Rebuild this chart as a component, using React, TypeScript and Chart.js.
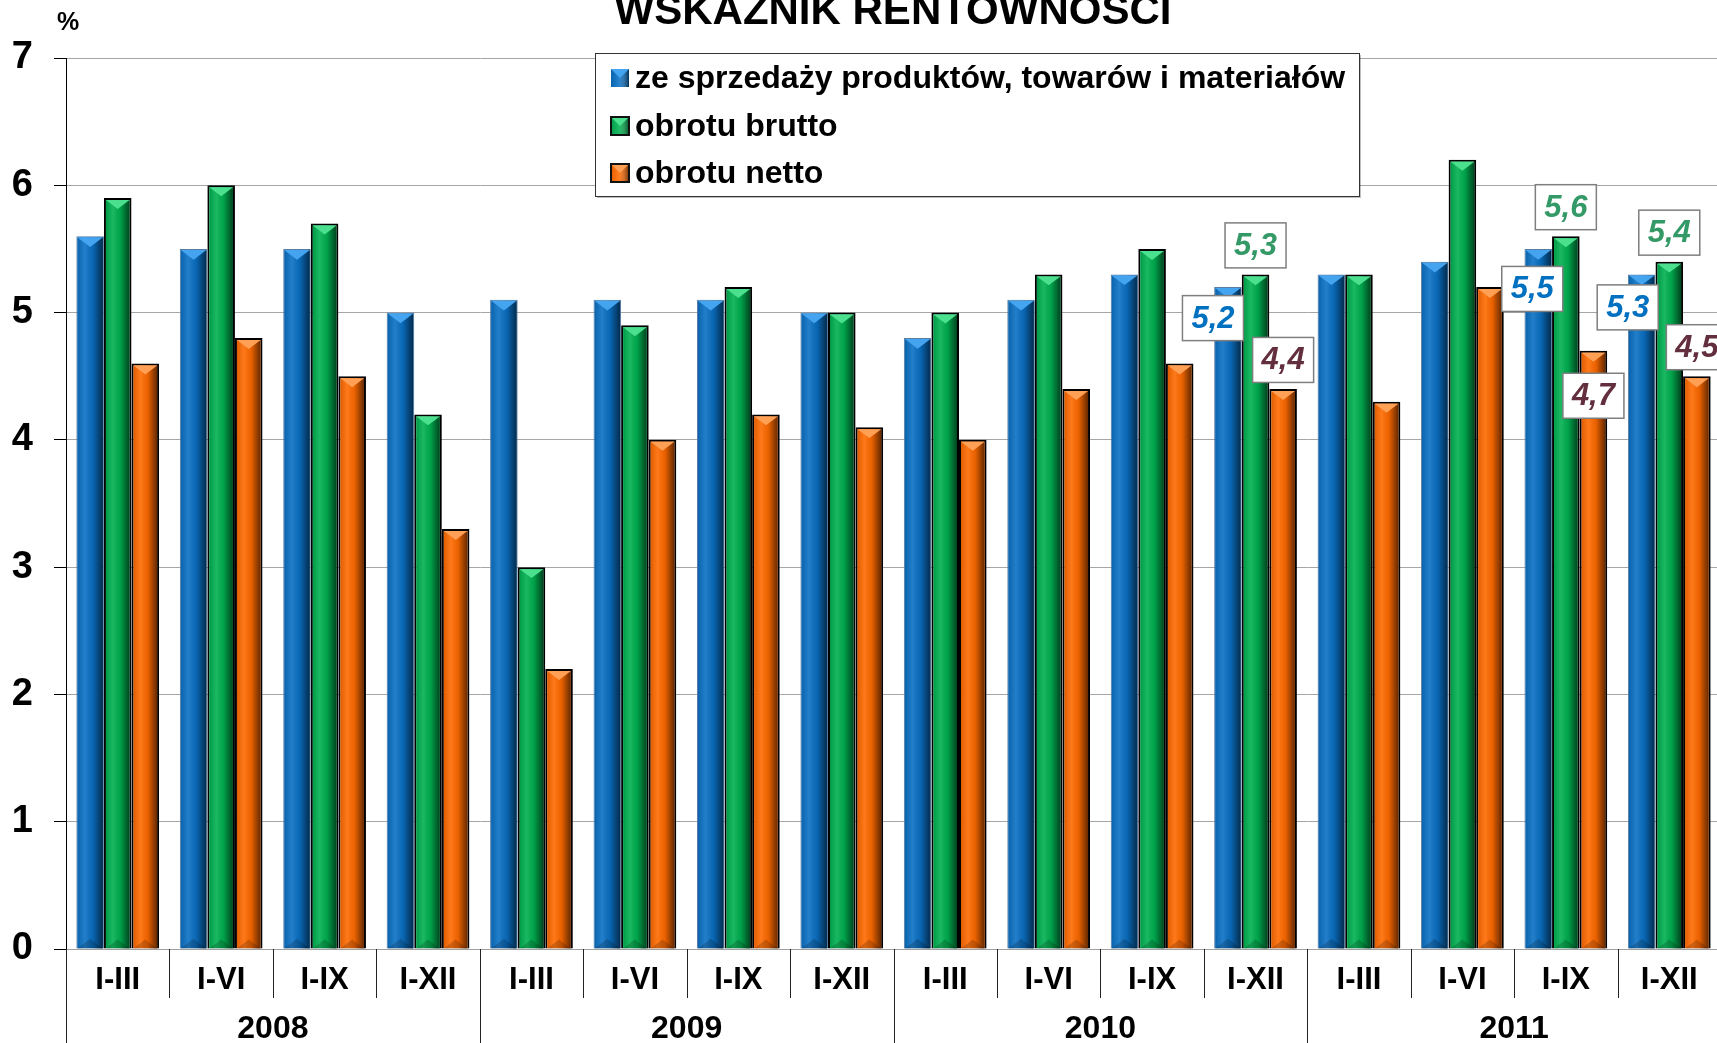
import React, { useEffect, useRef } from "react";
import { Chart, registerables } from "chart.js";

Chart.register(...registerables);

// ---------- data ----------
const periods = [
  "I-III", "I-VI", "I-IX", "I-XII",
  "I-III", "I-VI", "I-IX", "I-XII",
  "I-III", "I-VI", "I-IX", "I-XII",
  "I-III", "I-VI", "I-IX", "I-XII",
];
const years = ["2008", "2009", "2010", "2011"];
const seriesNames = [
  "ze sprzedaży produktów, towarów i materiałów",
  "obrotu brutto",
  "obrotu netto",
];
const salesProfit = [5.6, 5.5, 5.5, 5.0, 5.1, 5.1, 5.1, 5.0, 4.8, 5.1, 5.3, 5.2, 5.3, 5.4, 5.5, 5.3];
const grossProfit = [5.9, 6.0, 5.7, 4.2, 3.0, 4.9, 5.2, 5.0, 5.0, 5.3, 5.5, 5.3, 5.3, 6.2, 5.6, 5.4];
const netProfit = [4.6, 4.8, 4.5, 3.3, 2.2, 4.0, 4.2, 4.1, 4.0, 4.4, 4.6, 4.4, 4.3, 5.2, 4.7, 4.5];
const yTicks = [0, 1, 2, 3, 4, 5, 6, 7];
const labelledPoints = [11, 14, 15];
const titleText = "WSKAŹNIK RENTOWNOŚCI";
const unitText = "%";

// ---------- styles ----------
const FONT = "'Liberation Sans', Arial, Helvetica, sans-serif";
const barColors = ["#0A70C4", "#00B050", "#FF6A00"];
const topColors = ["#45A4F0", "#4BE08E", "#FFA055"];
const borderColors = ["#5a7da3", "#000000", "#000000"];
const borderWidths = [1, 2, 2];
const labelColors = ["#0070C0", "#339966", "#632F3E"];
// offsets of label box centre relative to (bar centre x, bar top y)
const labelOffsets: Record<number, Record<number, [number, number]>> = {
  0: { 11: [-15, 31], 14: [-6, 40], 15: [-14, 33] },
  1: { 11: [0, -29], 14: [0, -29], 15: [0, -29] },
  2: { 11: [0, -29], 14: [0, 45], 15: [0, -29] },
};

const shadePlugin = {
  id: "shade",
  afterDatasetsDraw(chart: any) {
    const ctx = chart.ctx as CanvasRenderingContext2D;
    const area = chart.chartArea;
    ctx.save();
    ctx.beginPath();
    ctx.rect(area.left, area.top, area.right - area.left, area.bottom - area.top);
    ctx.clip();
    chart.data.datasets.forEach((_ds: any, di: number) => {
      const meta = chart.getDatasetMeta(di);
      meta.data.forEach((bar: any) => {
        const { x, y, base, width } = bar.getProps(["x", "y", "base", "width"], true);
        const bw = borderWidths[di];
        const il = x - width / 2 + bw;
        const ir = x + width / 2 - bw;
        const it = y + bw;
        const ib = base;
        const w = ir - il;
        const g = ctx.createLinearGradient(il, 0, ir, 0);
        g.addColorStop(0, "rgba(0,0,0,0.12)");
        g.addColorStop(0.3, "rgba(255,255,255,0.10)");
        g.addColorStop(0.6, "rgba(0,0,0,0.08)");
        g.addColorStop(1, "rgba(0,0,0,0.6)");
        ctx.fillStyle = g;
        ctx.fillRect(il, it, w, ib - it);
        // top bevel
        ctx.beginPath();
        ctx.moveTo(il, it);
        ctx.lineTo(ir, it);
        ctx.lineTo(il + w / 2, it + w * 0.38);
        ctx.closePath();
        ctx.fillStyle = topColors[di];
        ctx.fill();
        // bottom bevel
        ctx.beginPath();
        ctx.moveTo(il, ib);
        ctx.lineTo(ir, ib);
        ctx.lineTo(il + w / 2, ib - w * 0.38);
        ctx.closePath();
        ctx.fillStyle = "rgba(0,0,0,0.18)";
        ctx.fill();
      });
    });
    ctx.restore();
  },
};

const decorPlugin = {
  id: "decor",
  afterDraw(chart: any) {
    const ctx = chart.ctx as CanvasRenderingContext2D;
    const area = chart.chartArea;
    const xs = chart.scales.x;
    const n = periods.length;
    const cat = (area.right - area.left) / n;

    ctx.save();
    // title & unit
    ctx.fillStyle = "#000";
    ctx.textAlign = "center";
    ctx.textBaseline = "alphabetic";
    ctx.font = `bold 42px ${FONT}`;
    ctx.fillText(titleText, 893, 24);
    ctx.font = `bold 25px ${FONT}`;
    ctx.textBaseline = "middle";
    ctx.fillText(unitText, 68, 23);

    // x axis category labels and separators
    ctx.strokeStyle = "#222";
    ctx.lineWidth = 1;
    for (let i = 0; i <= n; i++) {
      const bx = Math.round(area.left + i * cat) + 0.5;
      const longLine = i % 4 === 0;
      ctx.beginPath();
      ctx.moveTo(bx, area.bottom);
      ctx.lineTo(bx, longLine ? 1043 : 998);
      ctx.stroke();
    }
    ctx.font = `bold 31px ${FONT}`;
    ctx.textBaseline = "middle";
    periods.forEach((p, i) => {
      ctx.fillText(p, xs.getPixelForValue(i), 980);
    });
    ctx.font = `bold 32px ${FONT}`;
    years.forEach((yr, k) => {
      const cx = (xs.getPixelForValue(k * 4) + xs.getPixelForValue(k * 4 + 3)) / 2;
      ctx.fillText(yr, cx, 1029);
    });

    // legend
    const lx = 595, ly = 53, lw = 764, lh = 143;
    ctx.fillStyle = "rgba(0,0,0,0.25)";
    ctx.fillRect(lx + 2, ly + 2, lw, lh);
    ctx.fillStyle = "#fff";
    ctx.fillRect(lx, ly, lw, lh);
    ctx.strokeStyle = "#333";
    ctx.lineWidth = 1;
    ctx.strokeRect(lx + 0.5, ly + 0.5, lw, lh);
    const rows = [78, 126, 173];
    seriesNames.forEach((name, i) => {
      const my = rows[i];
      const ms = 18;
      const mx = 611;
      ctx.fillStyle = barColors[i];
      ctx.fillRect(mx, my - ms / 2, ms, ms);
      const g = ctx.createLinearGradient(mx, 0, mx + ms, 0);
      g.addColorStop(0, "rgba(0,0,0,0.1)");
      g.addColorStop(0.4, "rgba(255,255,255,0.1)");
      g.addColorStop(1, "rgba(0,0,0,0.55)");
      ctx.fillStyle = g;
      ctx.fillRect(mx, my - ms / 2, ms, ms);
      ctx.beginPath();
      ctx.moveTo(mx, my - ms / 2);
      ctx.lineTo(mx + ms, my - ms / 2);
      ctx.lineTo(mx + ms / 2, my);
      ctx.closePath();
      ctx.fillStyle = topColors[i];
      ctx.fill();
      if (i > 0) {
        ctx.strokeStyle = "#111";
        ctx.lineWidth = 2;
        ctx.strokeRect(mx, my - ms / 2, ms, ms);
      }
      ctx.fillStyle = "#000";
      ctx.font = `bold 32px ${FONT}`;
      ctx.textAlign = "left";
      ctx.textBaseline = "middle";
      ctx.fillText(name, 635, my + 1);
    });

    // data labels
    ctx.font = `italic bold 31px ${FONT}`;
    ctx.textAlign = "center";
    ctx.textBaseline = "middle";
    chart.data.datasets.forEach((ds: any, di: number) => {
      const meta = chart.getDatasetMeta(di);
      labelledPoints.forEach((idx) => {
        const bar: any = meta.data[idx];
        const { x, y } = bar.getProps(["x", "y"], true);
        const [dx, dy] = labelOffsets[di][idx];
        const cx = x + dx, cy = y + dy;
        const bw = 61, bh = 45;
        ctx.fillStyle = "#fff";
        ctx.fillRect(cx - bw / 2, cy - bh / 2, bw, bh);
        ctx.strokeStyle = "#7f7f7f";
        ctx.lineWidth = 1.5;
        ctx.strokeRect(cx - bw / 2, cy - bh / 2, bw, bh);
        ctx.fillStyle = labelColors[di];
        const v = ds.data[idx] as number;
        ctx.fillText(v.toFixed(1).replace(".", ","), cx, cy + 1);
      });
    });
    ctx.restore();
  },
};

export default function App() {
  const ref = useRef<HTMLCanvasElement>(null);
  useEffect(() => {
    if (!ref.current) return;
    const datasets = [salesProfit, grossProfit, netProfit].map((d, i) => ({
      label: seriesNames[i],
      data: d,
      backgroundColor: barColors[i],
      borderColor: borderColors[i],
      borderWidth: borderWidths[i],
      borderSkipped: "bottom" as const,
      barPercentage: 1.0,
      categoryPercentage: 0.8,
    }));
    const chart = new Chart(ref.current, {
      type: "bar",
      data: { labels: periods, datasets },
      options: {
        animation: false,
        responsive: false,
        devicePixelRatio: 1,
        layout: { padding: { top: 58, right: 4, left: 0, bottom: 0 } },
        plugins: {
          legend: { display: false },
          title: { display: false },
          tooltip: { enabled: false },
        },
        scales: {
          x: {
            ticks: { display: false },
            grid: { display: false },
            border: { display: true, color: "#a0a0a0" },
            afterFit(s: any) {
              s.height = 94;
            },
          },
          y: {
            min: 0,
            max: 7,
            afterBuildTicks(s: any) {
              s.ticks = yTicks.map((v) => ({ value: v }));
            },
            ticks: {
              stepSize: 1,
              color: "#000",
              padding: 21,
              font: { size: 38, weight: "bold", family: FONT },
            },
            grid: {
              color: "#a6a6a6",
              lineWidth: 1,
              tickLength: 12,
              tickColor: "#000",
              drawTicks: true,
            },
            border: { color: "#000", width: 1 },
            afterFit(s: any) {
              s.width = 66;
            },
          },
        },
      },
      plugins: [shadePlugin, decorPlugin],
    });
    return () => chart.destroy();
  }, []);

  return (
    <div
      style={{
        position: "fixed",
        left: 0,
        top: 0,
        width: 1717,
        height: 1043,
        overflow: "hidden",
        background: "#fff",
      }}
    >
      <canvas ref={ref} width={1725} height={1043} style={{ width: 1725, height: 1043, display: "block" }} />
    </div>
  );
}
